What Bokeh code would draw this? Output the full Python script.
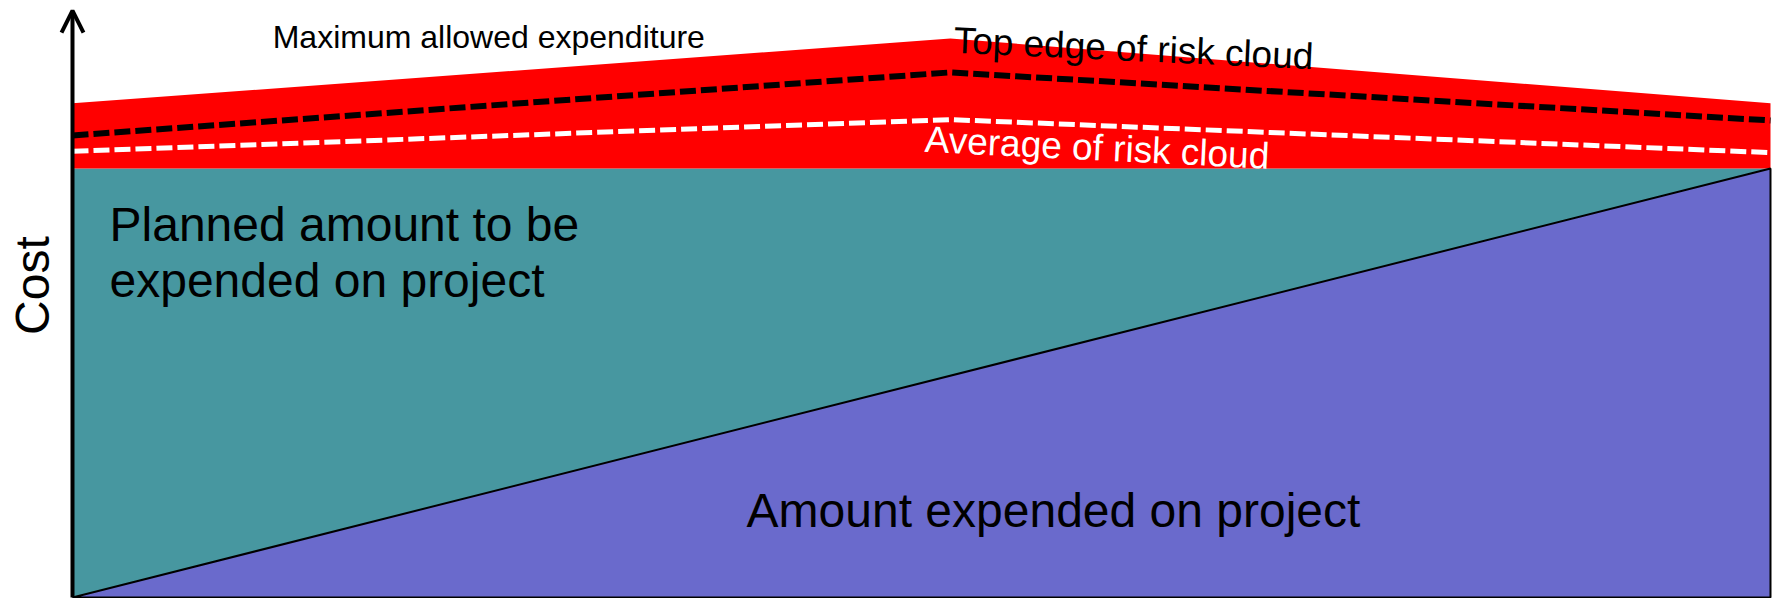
import math
from bokeh.plotting import figure
from bokeh.models import Range1d, Arrow, OpenHead, ColumnDataSource
from bokeh.core.properties import value
from bokeh.embed import file_html
from bokeh.resources import INLINE

# ---- data (time in % of schedule, cost in arbitrary units) ----
time_pts = [0, 51.7, 100]
max_allowed = [115.2, 130.3, 115.2]      # top of red band
risk_top = [107.7, 122.4, 111.2]         # black dashed line
risk_avg = [104.0, 111.4, 103.7]         # white dashed line
planned_budget = 100.0                    # teal area top
expended_time = [0, 100]
expended_cost = [0, 100]                  # purple area diagonal
cost_axis_top = 136.8                     # arrow tip of the cost axis

FONT = value("Liberation Sans")
TEAL = "#4797a0"
PURPLE = "#6a6acc"
RED = "#ff0000"

p = figure(width=1773, height=598, output_backend="svg", toolbar_location=None,
           x_range=Range1d(-4.240, 100.177), y_range=Range1d(-0.233, 139.16),
           x_axis_location=None, y_axis_location=None,
           min_border_left=0, min_border_right=0, min_border_top=0, min_border_bottom=0,
           outline_line_color=None, background_fill_color="white")
p.grid.visible = False

# planned amount (teal)
p.varea(x=[expended_time[0], expended_time[-1]], y1=[0, 0],
        y2=[planned_budget, planned_budget], fill_color=TEAL)
# risk band (red)
p.varea(x=time_pts, y1=[planned_budget] * len(time_pts), y2=max_allowed, fill_color=RED)
# expended (purple)
p.patch(x=[expended_time[0], expended_time[1], expended_time[1]],
        y=[expended_cost[0], expended_cost[1], 0],
        fill_color=PURPLE, line_color="black", line_width=2)
# dashed lines
p.line(time_pts, risk_top, line_color="black", line_width=6, line_dash="16 5")
p.line(time_pts, risk_avg, line_color="white", line_width=5, line_dash="16 5")

# texts
big = ColumnDataSource(dict(x=[2.18, 2.18, 39.7], y=[87.0, 73.95, 20.35],
                            t=["Planned amount to be", "expended on project",
                               "Amount expended on project"]))
p.text(x="x", y="y", text="t", source=big, text_font=FONT, text_font_size="48px",
       text_color="black", text_align="left", text_baseline="alphabetic")

p.text(x=[11.79], y=[130.7], text=["Maximum allowed expenditure"], text_font=FONT,
       text_font_size="32px", text_color="black", text_align="left", text_baseline="alphabetic")
p.text(x=[51.9], y=[129.9], text=["Top edge of risk cloud"], angle=-0.046, text_font=FONT,
       text_font_size="37px", text_color="black", text_align="left", text_baseline="alphabetic")
p.text(x=[50.2], y=[106.8], text=["Average of risk cloud"], angle=-0.049, text_font=FONT,
       text_font_size="37px", text_color="white", text_align="left", text_baseline="alphabetic")

# axis title
p.text(x=[-2.37], y=[72.7], text=["Cost"], angle=math.pi / 2, text_font=FONT,
       text_font_size="48px", text_color="black", text_align="center",
       text_baseline="alphabetic")

# cost axis drawn as an arrow
p.add_layout(Arrow(end=OpenHead(size=22, line_width=4, line_color="black"),
                   x_start=0, y_start=0, x_end=0, y_end=cost_axis_top,
                   line_width=4, line_color="black"))

open("out.html", "w").write(file_html(p, INLINE))
